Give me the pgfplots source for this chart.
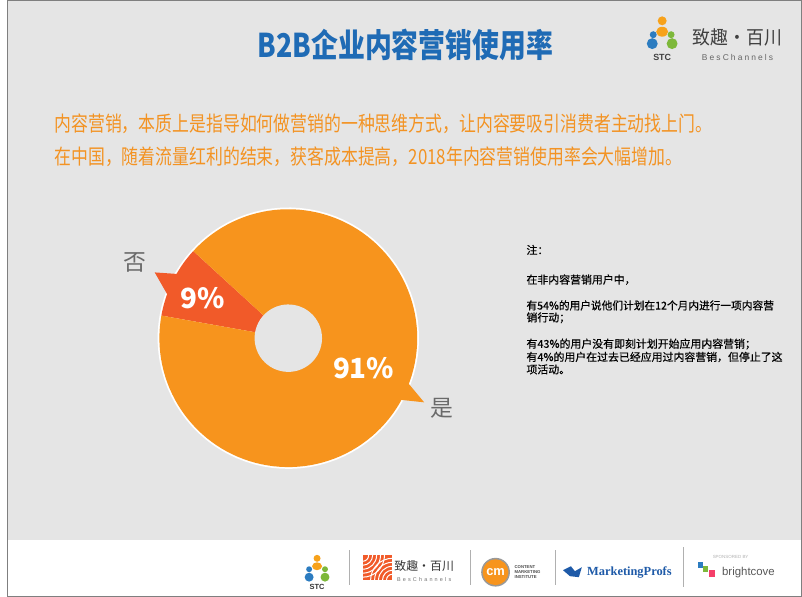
\documentclass[border=0pt]{standalone}
\usepackage{fontspec}
\setmainfont{Noto Sans CJK SC}
\newfontfamily\cjkmed[FakeBold=0.5]{Noto Sans CJK SC}
\newfontfamily\serifen{Liberation Serif}
\newfontfamily\sansen{Liberation Sans}
\usepackage{pgfplots}
\pgfplotsset{compat=1.18}
\usepackage{pgfplotstable}
\definecolor{bg}{HTML}{E5E5E5}
\definecolor{bordergray}{HTML}{7F7F7F}
\definecolor{titleblue}{HTML}{1F6BB5}
\definecolor{orangetext}{HTML}{F39323}
\definecolor{pieOrange}{HTML}{F7941D}
\definecolor{pieRed}{HTML}{F15A29}
\definecolor{labelgray}{HTML}{6A6A6A}
\definecolor{stcorange}{HTML}{F7A21B}
\definecolor{stcblue}{HTML}{2C7CC0}
\definecolor{stcgreen}{HTML}{7DB83A}
\definecolor{mpblue}{HTML}{1E5AA8}
\definecolor{sepgray}{HTML}{B0B0B0}

\pgfplotstableread{
label value
no 9
yes 91
}\piedata

\begin{document}
\pgfplotstablegetelem{0}{value}\of\piedata \let\vno\pgfplotsretval
\pgfplotstablegetelem{1}{value}\of\piedata \let\vyes\pgfplotsretval
\pgfmathsetmacro\aStart{137.5}
\pgfmathsetmacro\aMid{\aStart+3.6*\vno}
\pgfmathsetmacro\aEnd{\aMid+3.6*\vyes}
\begin{tikzpicture}[x=1pt,y=1pt]
\useasboundingbox (0,0) rectangle (802,602);
\fill[bg] (0,0) rectangle (802,602);
\fill[white] (0,0) rectangle (802,57);
\draw[bordergray, line width=1.2pt] (0.6,0.6) rectangle (801.4,601.4);

% title
\node[text=titleblue, font=\bfseries\fontsize{33}{36}\selectfont] at (402,557) {\scalebox{0.82}[1]{B2B企业内容营销使用率}};

% top-right logo
\fill[stcorange] (661,581) circle (4.5);
\fill[stcorange] (661,570) ellipse (6 and 5);
\fill[stcblue] (652,567) circle (3.5);
\fill[stcblue] (651,558) circle (5.5);
\fill[stcgreen] (670,567) circle (3.5);
\fill[stcgreen] (671,558) circle (5.5);
\node[text=black!75, font=\sansen\bfseries\fontsize{9}{10}\selectfont] at (661,544) {STC};
\node[text=black!75, font=\fontsize{19}{20}\selectfont] at (737,564) {\scalebox{0.95}[1]{致趣·百川}};
\node[text=black!60, font=\sansen\fontsize{8.5}{10}\selectfont\addfontfeatures{LetterSpace=25}] at (737,544) {BesChannels};

% subtitle lines
\node[anchor=west, text=orangetext, font=\fontsize{21}{24}\selectfont, inner sep=0] at (48,477) {\scalebox{0.81}[1]{内容营销，本质上是指导如何做营销的一种思维方式，让内容要吸引消费者主动找上门。}};
\node[anchor=west, text=orangetext, font=\fontsize{21}{24}\selectfont, inner sep=0] at (48,444) {\scalebox{0.81}[1]{在中国，随着流量红利的结束，获客成本提高，2018年内容营销使用率会大幅增加。}};

% notes
\begin{scope}[every node/.style={anchor=west, inner sep=0, text=black, font=\cjkmed\fontsize{11}{12}\selectfont}]
\node at (524,350) {注：};
\node at (524,320) {在非内容营销用户中，};
\node at (524,294) {\scalebox{0.98}[1]{有54\%的用户说他们计划在12个月内进行一项内容营}};
\node at (524,281.5) {销行动；};
\node at (524,255) {有43\%的用户没有即刻计划开始应用内容营销；};
\node at (524,242) {有4\%的用户在过去已经应用过内容营销，但停止了这};
\node at (524,229.5) {项活动。};
\end{scope}

% pie
\begin{axis}[at={(284pt,261pt)}, anchor=center, x=1pt, y=1pt,
  xmin=-160, xmax=160, ymin=-160, ymax=160, hide axis, clip=false, scale only axis]
\addplot[draw=none, fill=white, domain=0:360, samples=90] ({131.8*cos(x)},{131.8*sin(x)}) -- cycle;
\addplot[draw=none, fill=pieRed] coordinates {(-107.1,64.4) (-134.7,66.3) (-118.9,38.6)} -- cycle;
\addplot[draw=none, fill=pieOrange] coordinates {(117.8,-41.7) (137,-64.7) (108.7,-61.7)} -- cycle;
\addplot[draw=none, fill=pieRed, domain=\aStart:\aMid, samples=30] ({130*cos(x)},{130*sin(x)}) -- (axis cs:0,0) -- cycle;
\addplot[draw=none, fill=pieOrange, domain=\aMid:\aEnd, samples=120] ({130*cos(x)},{130*sin(x)}) -- (axis cs:0,0) -- cycle;
\addplot[draw=none, fill=bg, domain=0:360, samples=60] ({34*cos(x)},{34*sin(x)}) -- cycle;
\node[text=white, font=\bfseries\fontsize{28}{30}\selectfont] at (axis cs:-86,40) {9\%};
\node[text=white, font=\bfseries\fontsize{28}{30}\selectfont] at (axis cs:76,-30) {91\%};
\node[text=labelgray, font=\fontsize{23}{24}\selectfont] at (axis cs:-155,76) {否};
\node[text=labelgray, font=\fontsize{23}{24}\selectfont] at (axis cs:155,-71) {是};
\end{axis}

% footer logos
\fill[stcorange] (313,39) circle (3.5);
\fill[stcorange] (313,31) ellipse (5 and 4);
\fill[stcblue] (305,28) circle (3);
\fill[stcblue] (305,20) circle (4.5);
\fill[stcgreen] (321,28) circle (3);
\fill[stcgreen] (321,20) circle (4.5);
\node[text=black!80, font=\sansen\bfseries\fontsize{7.5}{8}\selectfont] at (313,10) {STC};
\draw[sepgray, line width=0.8pt] (346,47) -- (346,12);
\begin{scope}
\clip (359,17) rectangle (389,42);
\fill[pieRed] (359,17) rectangle (389,42);
\foreach \r in {6,10,14,18,22}{
  \draw[white, line width=1pt] (389,17) circle (\r);
  \draw[white, line width=1pt] (359,42) circle (\r);
}
\end{scope}
\node[text=black!80, font=\fontsize{12}{13}\selectfont] at (421,31) {致趣·百川};
\node[text=black!55, font=\sansen\fontsize{5.5}{7}\selectfont\addfontfeatures{LetterSpace=40}] at (421,18) {BesChannels};
\draw[sepgray, line width=0.8pt] (468,47) -- (468,12);
\fill[black!40] (493,25) circle (14.5);
\fill[pieOrange] (493,25) circle (13);
\node[text=white, font=\sansen\bfseries\fontsize{13}{13}\selectfont] at (493,25.5) {cm};
\node[anchor=west, align=left, text=black!70, font=\sansen\bfseries\fontsize{4.3}{4.8}\selectfont, inner sep=0] at (512,25) {CONTENT\\MARKETING\\INSTITUTE};
\draw[sepgray, line width=0.8pt] (553,47) -- (553,12);
\fill[mpblue] (561,27) -- (569,31) -- (573,26) -- (580,30) -- (577,20) -- (568,21) -- cycle;
\node[text=mpblue, font=\serifen\bfseries\fontsize{12.5}{13}\selectfont] at (628,25) {MarketingProfs};
\draw[sepgray, line width=0.8pt] (682,50) -- (682,10);
\node[text=black!30, font=\sansen\fontsize{4.5}{5}\selectfont] at (730,40) {SPONSORED BY};
\fill[stcblue] (697,29) rectangle (702,35);
\fill[stcgreen] (702,25) rectangle (707,31);
\fill[pieRed!70!magenta] (708,20) rectangle (714,27);
\node[text=black!65, font=\sansen\fontsize{11.5}{12}\selectfont] at (748,25) {brightcove};
\end{tikzpicture}
\end{document}
